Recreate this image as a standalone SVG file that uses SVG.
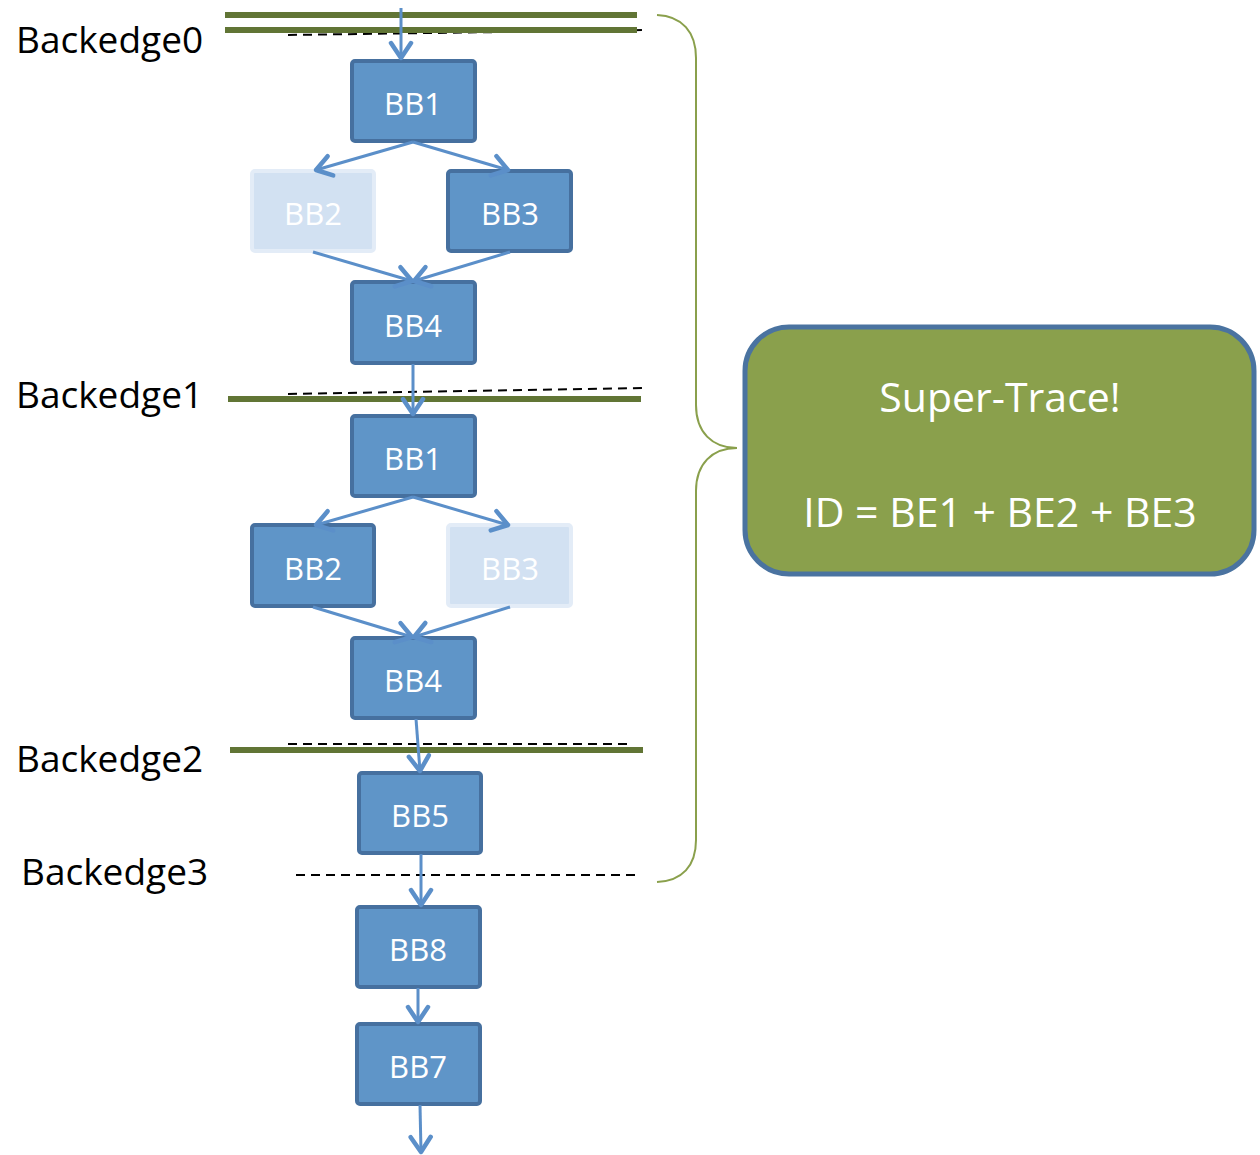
<svg xmlns="http://www.w3.org/2000/svg" width="1260" height="1155" viewBox="0 0 1260 1155">
  <defs>
    <marker id="chev" markerUnits="userSpaceOnUse" viewBox="0 0 22 26" refX="19" refY="13" markerWidth="22" markerHeight="26" orient="auto">
      <path d="M4,3 L19,13 L4,23" fill="none" stroke="#5b8fc9" stroke-width="4.5" stroke-linecap="round" stroke-linejoin="round"/>
    </marker>
  </defs>
  <style>
    .bb rect { fill: #5f95c8; stroke: #46709f; stroke-width: 4; }
    .bb.faded rect { fill: #d2e1f2; stroke: #e3ecf7; }
    .bb text { fill: #ffffff; font-family: "Open Sans", "Liberation Sans", sans-serif; font-size: 31px; text-anchor: middle; }
    .lbl { fill: #000000; font-family: "Open Sans", "Liberation Sans", sans-serif; font-size: 37px; }
    .dash { stroke: #000000; stroke-width: 2; stroke-dasharray: 9 6; fill: none; }
    .bar { stroke: #617535; stroke-width: 6; fill: none; }
    .edge { stroke: #5b8fc9; stroke-width: 3; fill: none; marker-end: url(#chev); }
  </style>

  <!-- backedge markers -->
  <g id="backedges">
    <path class="dash" d="M288,35 L643,30"/>
    <path class="dash" d="M288,394 L643,388"/>
    <path class="dash" d="M288,744 L633,744"/>
    <path class="dash" d="M296,875 L641,875"/>
    <path class="bar" d="M225,15 L637,15"/>
    <path class="bar" d="M225,30 L637,30"/>
    <path class="bar" d="M228,399 L641,399"/>
    <path class="bar" d="M230,750 L643,750"/>
    <text class="lbl" x="16" y="53">Backedge0</text>
    <text class="lbl" x="16" y="408">Backedge1</text>
    <text class="lbl" x="16" y="772">Backedge2</text>
    <text class="lbl" x="21" y="885">Backedge3</text>
  </g>

  <!-- basic blocks -->
  <g id="bb1a" class="bb"><rect x="352" y="61" width="123" height="80" rx="3"/><text x="413" y="115">BB1</text></g>
  <g id="bb2a" class="bb faded"><rect x="252" y="171" width="122" height="80" rx="3"/><text x="313" y="225">BB2</text></g>
  <g id="bb3a" class="bb"><rect x="448" y="171" width="123" height="80" rx="3"/><text x="510" y="225">BB3</text></g>
  <g id="bb4a" class="bb"><rect x="352" y="282" width="123" height="81" rx="3"/><text x="413" y="337">BB4</text></g>
  <g id="bb1b" class="bb"><rect x="352" y="416" width="123" height="80" rx="3"/><text x="413" y="470">BB1</text></g>
  <g id="bb2b" class="bb"><rect x="252" y="525" width="122" height="81" rx="3"/><text x="313" y="580">BB2</text></g>
  <g id="bb3b" class="bb faded"><rect x="448" y="525" width="123" height="81" rx="3"/><text x="510" y="580">BB3</text></g>
  <g id="bb4b" class="bb"><rect x="352" y="638" width="123" height="80" rx="3"/><text x="413" y="692">BB4</text></g>
  <g id="bb5" class="bb"><rect x="359" y="773" width="122" height="80" rx="3"/><text x="420" y="827">BB5</text></g>
  <g id="bb8" class="bb"><rect x="357" y="907" width="123" height="80" rx="3"/><text x="418" y="961">BB8</text></g>
  <g id="bb7" class="bb"><rect x="357" y="1024" width="123" height="80" rx="3"/><text x="418" y="1078">BB7</text></g>

  <!-- control-flow edges -->
  <g id="edges">
    <path class="edge" d="M401,8 L401,58"/>
    <path class="edge" d="M413,142 L316,170"/>
    <path class="edge" d="M413,142 L508,170"/>
    <path class="edge" d="M313,252 L412,281"/>
    <path class="edge" d="M510,252 L414,281"/>
    <path class="edge" d="M413,364 L413,414"/>
    <path class="edge" d="M413,497 L316,525"/>
    <path class="edge" d="M413,497 L508,525"/>
    <path class="edge" d="M313,607 L412,637"/>
    <path class="edge" d="M510,607 L414,637"/>
    <path class="edge" d="M416,719 L420,771"/>
    <path class="edge" d="M421,854 L421,905"/>
    <path class="edge" d="M418,988 L418,1022"/>
    <path class="edge" d="M420,1105 L421,1152"/>
  </g>

  <!-- brace grouping the trace -->
  <g id="brace">
    <path d="M657,15 C682,16 696,32 696,58 L696,405 C696,432 712,448 737,448 C712,448 696,464 696,491 L696,840 C696,866 682,881 657,882" fill="none" stroke="#8aa04c" stroke-width="2"/>
  </g>

  <!-- super-trace summary -->
  <g id="supertrace">
    <rect x="745" y="327" width="509" height="247" rx="44" fill="#8aa04c" stroke="#4a73a0" stroke-width="5"/>
    <text x="1000" y="412" fill="#ffffff" font-family="'Open Sans', 'Liberation Sans', sans-serif" font-size="41" text-anchor="middle">Super-Trace!</text>
    <text x="1000" y="527" fill="#ffffff" font-family="'Open Sans', 'Liberation Sans', sans-serif" font-size="41" text-anchor="middle">ID = BE1 + BE2 + BE3</text>
  </g>
</svg>
